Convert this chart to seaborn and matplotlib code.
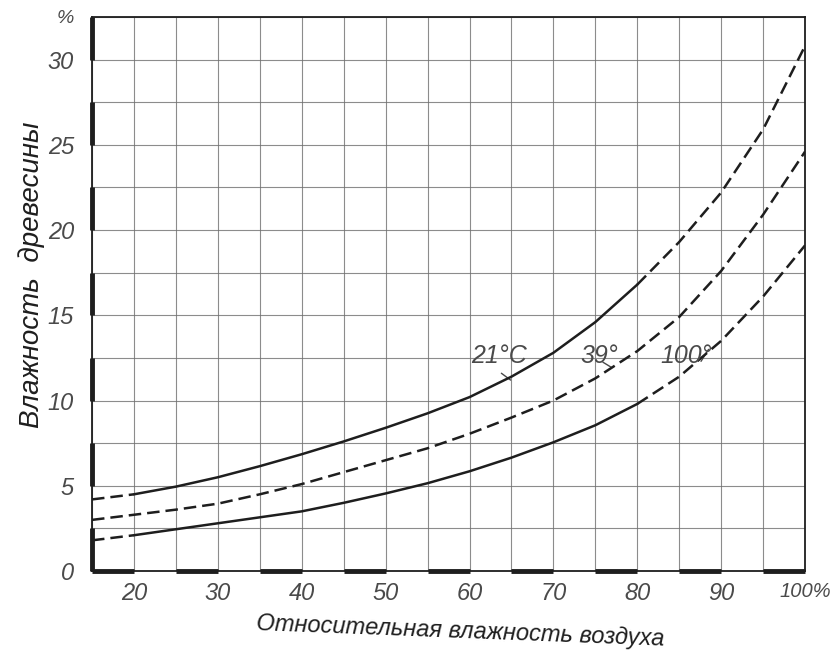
import numpy as np
import pandas as pd
import seaborn as sns
import matplotlib
matplotlib.use("Agg")
import matplotlib.pyplot as plt

# ---- data ----
humidity = [15, 20, 25, 30, 35, 40, 45, 50, 55, 60, 65, 70, 75, 80, 85, 90, 95, 100]
wood_21 = [4.2, 4.5, 4.95, 5.5, 6.15, 6.85, 7.6, 8.4, 9.25, 10.2, 11.4, 12.8, 14.6, 16.8, 19.3, 22.2, 25.9, 30.8]
wood_39 = [3.0, 3.3, 3.6, 3.95, 4.5, 5.1, 5.8, 6.5, 7.2, 8.05, 9.0, 10.0, 11.3, 12.9, 14.9, 17.6, 20.9, 24.6]
wood_100 = [1.8, 2.1, 2.45, 2.8, 3.15, 3.5, 4.0, 4.55, 5.15, 5.85, 6.65, 7.55, 8.55, 9.8, 11.4, 13.5, 16.1, 19.1]
curve_labels = ["21°C", "39°", "100°"]
label_x = [63.5, 75.5, 85.8]

x_ticks = [15, 20, 25, 30, 35, 40, 45, 50, 55, 60, 65, 70, 75, 80, 85, 90, 95, 100]
x_tick_labels = ["", "20", "", "30", "", "40", "", "50", "", "60", "", "70", "", "80", "", "90", "", "100%"]
y_ticks = [0, 2.5, 5, 7.5, 10, 12.5, 15, 17.5, 20, 22.5, 25, 27.5, 30, 32.5]
y_tick_labels = ["0", "", "5", "", "10", "", "15", "", "20", "", "25", "", "30", "%"]

xlabel = "Относительная влажность воздуха"
ylabel = "Влажность  древесины"

# ---- style ----
sns.set_theme(style="white")
FONT = ["Liberation Sans", "DejaVu Sans"]
plt.rcParams["font.family"] = FONT
INK = "#1e1e1e"
TXT = "#4a4a4a"
GRID = "#707070"

fig = plt.figure(figsize=(8.32, 6.66), dpi=100)
ax = fig.add_axes([0.1106, 0.1426, 0.8570, 0.8320])

# grid
ax.set_xlim(15, 100)
ax.set_ylim(0, 32.5)
ax.set_xticks(x_ticks)
ax.set_yticks(y_ticks)
ax.set_xticklabels(x_tick_labels)
ax.set_yticklabels(y_tick_labels)
ax.grid(True, color=GRID, lw=0.8, alpha=0.8)
ax.tick_params(length=0, labelsize=17, labelcolor=TXT, pad=13)
ax.tick_params(axis="x", pad=8)
for lab in ax.get_xticklabels() + ax.get_yticklabels():
    lab.set_fontstyle("italic")
last = ax.get_xticklabels()[-1]
last.set_fontsize(14.5)
top = ax.get_yticklabels()[-1]
top.set_fontsize(14)
for s in ax.spines.values():
    s.set_visible(True)
    s.set_color(INK)
    s.set_linewidth(1.3)

# alternating thick scale bars along left and bottom axes
for a, b in zip(x_ticks[0:-1:2], x_ticks[1::2]):
    ax.plot([a, b], [0, 0], color=INK, lw=3.5, clip_on=False, solid_capstyle="butt", zorder=5)
for a, b in zip(y_ticks[0::2], y_ticks[1::2]):
    ax.plot([15, 15], [a, b], color=INK, lw=3.5, clip_on=False, solid_capstyle="butt", zorder=5)

df = pd.DataFrame({"h": humidity * 3,
                   "w": wood_21 + wood_39 + wood_100,
                   "curve": np.repeat(curve_labels, len(humidity))})

DASH = (0, (5.0, 2.4))
LW = 1.8

def seg(name, lo, hi, ls):
    d = df[(df.curve == name) & (df.h >= lo) & (df.h <= hi)]
    sns.lineplot(data=d, x="h", y="w", ax=ax, color=INK, lw=LW, linestyle=ls,
                 sort=False, estimator=None, legend=False, zorder=4)

for name in ["21°C", "100°"]:
    seg(name, 15, 20, DASH)
    seg(name, 20, 80, "-")
    seg(name, 80, 100, DASH)
seg("39°", 15, 100, DASH)

ax.set_xlabel("")
ax.set_ylabel("")

# curve labels with leaders
for name, lx in zip(curve_labels, label_x):
    ax.text(lx, 12.6, name, fontsize=18, fontstyle="italic", color=TXT,
            ha="center", va="center", zorder=6)
ax.plot([63.8, 64.9], [11.6, 11.2], color=TXT, lw=1.0)
ax.plot([75.9, 76.9], [12.25, 11.95], color=TXT, lw=1.0)
ax.plot([87.6, 88.5], [12.3, 13.0], color=TXT, lw=1.0)

fig.text(0.553, 0.052, xlabel, fontsize=17, fontstyle="italic", color=INK,
         ha="center", va="center", rotation=-2.2)
fig.text(0.038, 0.587, ylabel, fontsize=20, fontstyle="italic", color=INK,
         ha="center", va="center", rotation=90)

fig.savefig("out.png", dpi=100, facecolor="white")
